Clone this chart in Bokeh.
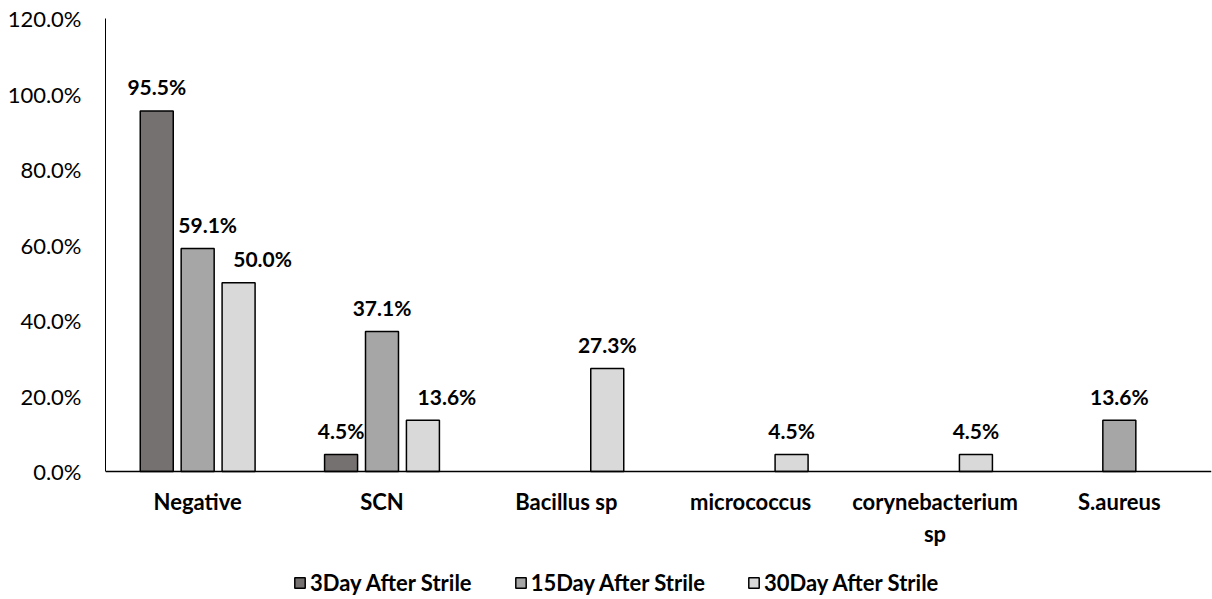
from bokeh.plotting import figure
from bokeh.models import (ColumnDataSource, Range1d, LabelSet, Legend, LegendItem,
                          PrintfTickFormatter, FixedTicker)
from bokeh.core.properties import value
from bokeh.embed import file_html
from bokeh.resources import INLINE

# Isolates by day after sterilisation (percent of samples)
categories = ["Negative", "SCN", "Bacillus sp", "micrococcus", "corynebacterium sp", "S.aureus"]
series_names = ["3Day After Strile", "15Day After Strile", "30Day After Strile"]
day3 = [95.5, 4.5, 0.0, 0.0, 0.0, 0.0]
day15 = [59.1, 37.1, 0.0, 0.0, 0.0, 13.6]
day30 = [50.0, 13.6, 27.3, 4.5, 4.5, 0.0]
y_ticks = [0, 20, 40, 60, 80, 100, 120]

# long category names are wrapped onto two tick-label rows
wrapped = {"corynebacterium sp": "corynebacterium\nsp"}

# styling
colors = ["#767171", "#A6A6A6", "#D9D9D9"]
offsets = [-0.222, 0.0, 0.222]
# small sideways nudges for value labels that would otherwise crowd
label_nudge = [
    [0, 0, 0, 0, 0, 0],
    [10, 0, 0, 0, 0, 0],
    [24, 24, 0, 0, 0, 0],
]

FONT = "Lato"
W, H = 1212, 599
TOP, PLOT_H = 18, 453          # pixel extent of the 0..120 value band
Y_MAX = 120
# the frame runs to the bottom edge; the band below zero holds names and legend
y_min = -Y_MAX * (H - TOP - PLOT_H) / PLOT_H

centers = [i + 0.5 for i in range(len(categories))]

p = figure(x_range=Range1d(0, len(categories)), y_range=Range1d(y_min, Y_MAX),
           width=W, height=H, output_backend="svg", toolbar_location=None,
           min_border_left=105, min_border_right=1, min_border_top=TOP, min_border_bottom=0)
p.outline_line_color = None
p.grid.grid_line_color = None
p.background_fill_color = "white"

renderers = []
for vals, col, off, nudge in zip([day3, day15, day30], colors, offsets, label_nudge):
    keep = [i for i, v in enumerate(vals) if v > 0]
    src = ColumnDataSource(dict(
        x=[centers[i] + off for i in keep],
        val=[vals[i] for i in keep],
        txt=["%.1f%%" % vals[i] for i in keep],
        dx=[nudge[i] for i in keep],
    ))
    r = p.vbar(x="x", top="val", width=0.179, source=src,
               fill_color=col, line_color="black", line_width=1.5)
    renderers.append(r)
    p.add_layout(LabelSet(x="x", y="val", text="txt",
                          x_offset="dx", y_offset=24, source=src,
                          text_align="center", text_baseline="middle",
                          text_font=value(FONT), text_font_style="bold",
                          text_font_size="21px", text_color="black"))

# y axis
p.yaxis.ticker = FixedTicker(ticks=y_ticks)
p.yaxis.bounds = (0, Y_MAX)
p.yaxis.formatter = PrintfTickFormatter(format="%.1f%%")
p.yaxis.major_tick_line_color = None
p.yaxis.minor_tick_line_color = None
p.yaxis.axis_line_color = "black"
p.yaxis.axis_line_width = 1
p.yaxis.major_label_text_font = FONT
p.yaxis.major_label_text_font_size = "22px"
p.yaxis.major_label_text_color = "black"
p.yaxis.major_label_standoff = 18

# x axis pinned at zero, category names at the group centres
xa = p.xaxis[0]
xa.fixed_location = 0
xa.ticker = FixedTicker(ticks=centers)
xa.major_label_overrides = {c: wrapped.get(n, n) for c, n in zip(centers, categories)}
xa.major_tick_line_color = None
xa.minor_tick_line_color = None
xa.axis_line_color = "black"
xa.axis_line_width = 1.5
xa.major_label_text_font = FONT
xa.major_label_text_font_style = "bold"
xa.major_label_text_font_size = "22px"
xa.major_label_text_color = "black"
xa.major_label_standoff = 10

legend = Legend(items=[LegendItem(label=n, renderers=[r]) for n, r in zip(series_names, renderers)],
                orientation="horizontal", location=(188, 3),
                glyph_width=13, glyph_height=13, label_standoff=4, spacing=42,
                padding=0, margin=0, border_line_color=None, background_fill_alpha=0,
                label_text_font=FONT, label_text_font_style="bold",
                label_text_font_size="22px", label_text_color="black")
p.add_layout(legend, "center")

open("out.html", "w").write(file_html(p, INLINE))
